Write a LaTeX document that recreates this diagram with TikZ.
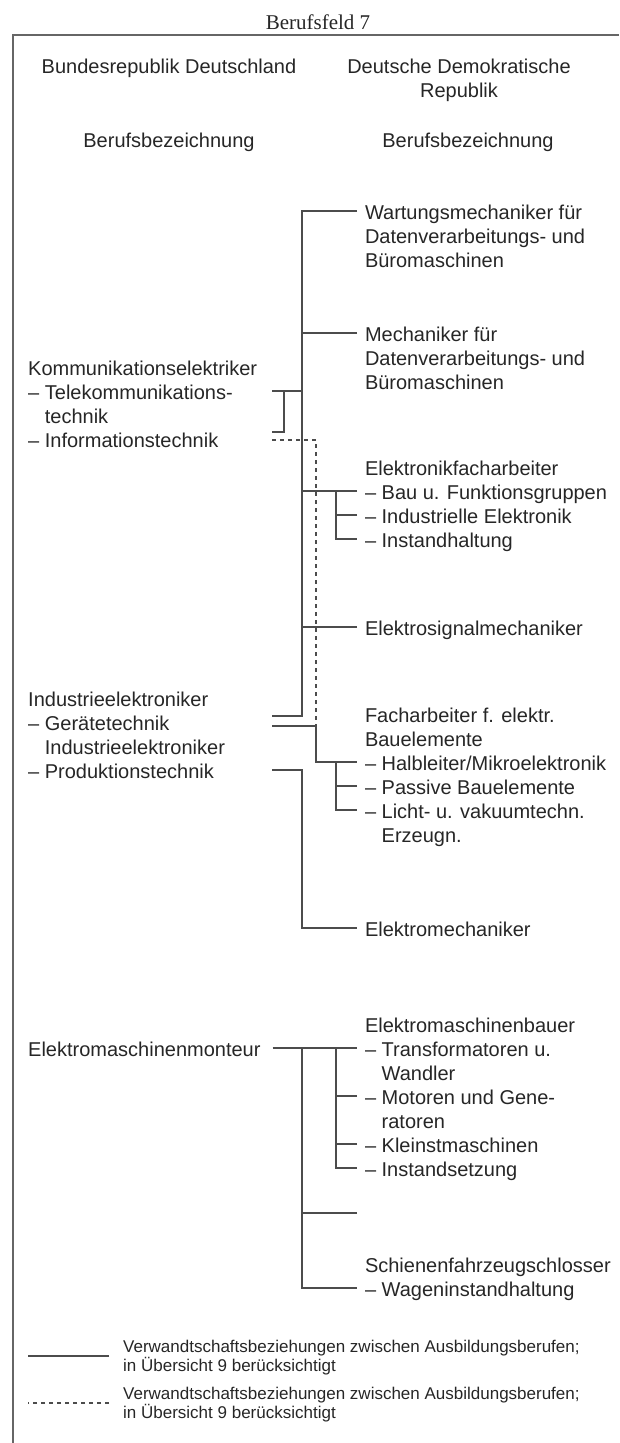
\documentclass[tikz,border=0pt]{standalone}
\usepackage{fontspec}
\setmainfont{Liberation Sans}
\newfontfamily\serifhead{Liberation Serif}
\newcommand\dashind{\hphantom{– }}
\begin{document}
\begin{tikzpicture}[x=1pt, y=-1pt,
        header/.style={font=\fontsize{20}{24}\selectfont, align=center, anchor=base, inner sep=0pt, text=black!85},
        job/.style={font=\fontsize{20}{24}\selectfont, align=left, anchor=base west, inner sep=0pt, text=black!85},
        rjob/.style={job, outer xsep=8pt},
        legendtext/.style={font=\fontsize{17}{16}\selectfont, align=left, anchor=base west, inner sep=0pt, text=black!85},
        rel/.style={draw=black!70, line width=1.1pt},
        relmaybe/.style={rel, dash pattern=on 4pt off 4pt}]
    \useasboundingbox (0,0) rectangle (619,1443);
    % title and frame (node base = baseline of the last line)
    \node[anchor=base, font=\serifhead\fontsize{21}{21}\selectfont, text=black!85] (title) at (318,29) {Berufsfeld 7};
    \draw[draw=black!60, line width=1.1pt] (619,35) -- (13,35) -- (13,1443);
    % column heads
    \node[header] (brd) at (169,73) {Bundesrepublik Deutschland};
    \node[header] (ddr) at (459,97) {Deutsche Demokratische\\Republik};
    \node[header] (brdhead) at (169,147) {Berufsbezeichnung};
    \node[header] (ddrhead) at (468,147) {Berufsbezeichnung};
    % DDR occupations
    \node[rjob] (wart) at (357,267) {Wartungsmechaniker für\\Datenverarbeitungs- und\\Büromaschinen};
    \node[rjob] (mech) at (357,389) {Mechaniker für\\Datenverarbeitungs- und\\Büromaschinen};
    \node[rjob] (elfa) at (357,547) {Elektronikfacharbeiter\\– Bau u. Funktionsgruppen\\– Industrielle Elektronik\\– Instandhaltung};
    \node[rjob] (esig) at (357,635) {Elektrosignalmechaniker};
    \node[rjob] (fabe) at (357,842) {Facharbeiter f. elektr.\\Bauelemente\\– Halbleiter/Mikroelektronik\\– Passive Bauelemente\\– Licht- u. vakuumtechn.\\\dashind Erzeugn.};
    \node[rjob] (emech) at (357,936) {Elektromechaniker};
    \node[rjob] (emb) at (357,1176) {Elektromaschinenbauer\\– Transformatoren u.\\\dashind Wandler\\– Motoren und Gene-\\\dashind ratoren\\– Kleinstmaschinen\\– Instandsetzung};
    \node[rjob] (schl) at (357,1296) {Schienenfahrzeugschlosser\\– Wageninstandhaltung};
    % BRD occupations
    \node[job] (komm) at (28,447) {Kommunikationselektriker\\– Telekommunikations-\\\dashind technik\\– Informationstechnik};
    \node[job] (inde) at (28,778) {Industrieelektroniker\\– Gerätetechnik\\\dashind Industrieelektroniker\\– Produktionstechnik};
    \node[job] (emon) at (28,1056) {Elektromaschinenmonteur};
    % junction points
    \coordinate (trunkA) at (302,716);
    \coordinate (drop) at (316,726);
    \coordinate (tele) at (272,391);
    \coordinate (infobr) at (272,432);
    \coordinate (info) at (272,440);
    \coordinate (geraetA) at (272,716);
    \coordinate (geraetB) at (272,726);
    \coordinate (prod) at (272,770);
    \coordinate (blank) at (357,1213);
    % upper group
    \draw[rel] ([yshift=56pt]wart.base west) -| (trunkA) -- (geraetA);
    \draw[rel] ([yshift=56pt]mech.base west) -- ++(-55,0);
    \draw[rel] ([yshift=56pt]elfa.base west) -- ++(-55,0);
    \draw[rel] ([xshift=-21pt,yshift=56pt]elfa.base west) |- ([yshift=8pt]elfa.base west);
    \draw[rel] ([yshift=32pt]elfa.base west) -- ++(-21,0);
    \draw[rel] ([yshift=8pt]esig.base west) -- ++(-55,0);
    \draw[rel] (tele) -- (tele -| trunkA);
    \draw[rel] (infobr) -| ([xshift=12pt]tele);
    \draw[relmaybe] (info) -| (drop);
    \draw[rel] (geraetB) -- (drop) |- ([yshift=80pt]fabe.base west);
    \draw[rel] ([xshift=-21pt,yshift=80pt]fabe.base west) |- ([yshift=32pt]fabe.base west);
    \draw[rel] ([yshift=56pt]fabe.base west) -- ++(-21,0);
    \draw[rel] (prod) -| ([xshift=-55pt,yshift=8pt]emech.base west) -- ([yshift=8pt]emech.base west);
    % lower group
    \draw[rel] ([xshift=12pt,yshift=8pt]emon.base east) -- ([yshift=128pt]emb.base west);
    \draw[rel] ([xshift=-55pt,yshift=128pt]emb.base west) |- ([yshift=8pt]schl.base west);
    \draw[rel] (blank) -- ++(-55,0);
    \draw[rel] ([xshift=-21pt,yshift=128pt]emb.base west) |- ([yshift=8pt]emb.base west);
    \draw[rel] ([yshift=80pt]emb.base west) -- ++(-21,0);
    \draw[rel] ([yshift=32pt]emb.base west) -- ++(-21,0);
    % legend
    \node[legendtext] (legsolid) at (123,1371) {Verwandtschaftsbeziehungen zwischen Ausbildungsberufen;\\in Übersicht 9 berücksichtigt};
    \node[legendtext] (legdash) at (123,1418) {Verwandtschaftsbeziehungen zwischen Ausbildungsberufen;\\in Übersicht 9 berücksichtigt};
    \draw[rel] ([xshift=-14pt,yshift=15pt]legsolid.base west) -- ++(-81,0);
    \draw[relmaybe] ([xshift=-14pt,yshift=15pt]legdash.base west) -- ++(-81,0);
\end{tikzpicture}
\end{document}
